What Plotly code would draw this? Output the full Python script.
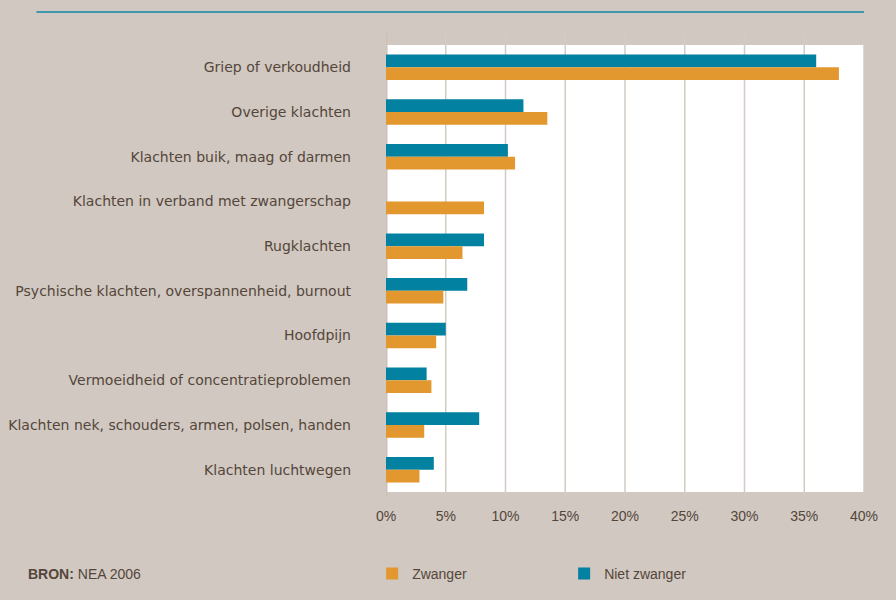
import plotly.graph_objects as go

# Redenen van ziekteverzuim, zwangere vs. niet-zwangere werknemers (percentages)
categories = [
    "Griep of verkoudheid",
    "Overige klachten",
    "Klachten buik, maag of darmen",
    "Klachten in verband met zwangerschap",
    "Rugklachten",
    "Psychische klachten, overspannenheid, burnout",
    "Hoofdpijn",
    "Vermoeidheid of concentratieproblemen",
    "Klachten nek, schouders, armen, polsen, handen",
    "Klachten luchtwegen",
]
zwanger = [37.9, 13.5, 10.8, 8.2, 6.4, 4.8, 4.2, 3.8, 3.2, 2.8]
niet_zwanger = [36.0, 11.5, 10.2, 0.0, 8.2, 6.8, 5.0, 3.4, 7.8, 4.0]
tick_values = [0, 5, 10, 15, 20, 25, 30, 35, 40]
tick_labels = ["0%", "5%", "10%", "15%", "20%", "25%", "30%", "35%", "40%"]

BG = "#d1c8c1"
GRID = "#d3cbc4"
TEAL = "#0281a1"
ORANGE = "#e2982f"
TEXT = "#54463a"
FONT = "Liberation Sans, Arial, sans-serif"
LABEL_FONT = "DejaVu Sans, Verdana, sans-serif"

fig = go.Figure()
fig.add_trace(go.Bar(
    y=categories, x=niet_zwanger, orientation="h", name="Niet zwanger",
    marker=dict(color=TEAL, line=dict(width=0)), legendrank=2,
))
fig.add_trace(go.Bar(
    y=categories, x=zwanger, orientation="h", name="Zwanger",
    marker=dict(color=ORANGE, line=dict(width=0)), legendrank=1,
))

# Rasterlijnen die iets buiten het witte plotvlak doorlopen
shapes = []
for v in tick_values:
    shapes.append(dict(
        type="line", xref="x", yref="paper", x0=v, x1=v, y0=-0.012, y1=1.027,
        line=dict(color=GRID if v else "#cbc1b9", width=3 if v == 0 else 1.5),
        layer="below",
    ))
# Lijn bovenaan de pagina
shapes.append(dict(
    type="line", xref="paper", yref="paper",
    x0=(36 - 386) / 478.5, x1=1.0, y0=(492 - 12) / 447, y1=(492 - 12) / 447,
    line=dict(color="#3f98ad", width=2),
))

fig.update_layout(
    width=896, height=600,
    paper_bgcolor=BG, plot_bgcolor="white",
    margin=dict(l=386, r=31.5, t=45, b=108, autoexpand=False),
    barmode="group", bargap=0.43, bargroupgap=0,
    font=dict(family=FONT, size=14, color=TEXT),
    shapes=shapes,
    showlegend=True,
    legend=dict(
        orientation="h", x=-0.029, y=-0.183, xanchor="left", yanchor="middle",
        bgcolor="rgba(0,0,0,0)", font=dict(size=14, color=TEXT),
        entrywidth=147, entrywidthmode="pixels", traceorder="normal",
    ),
    annotations=[dict(
        text="<b>BRON:</b> NEA 2006", xref="paper", yref="paper",
        x=(26 - 386) / 478.5, y=-0.183, xanchor="left", yanchor="middle",
        showarrow=False, font=dict(size=14, color=TEXT),
    )],
)
fig.update_xaxes(
    range=[0, 40], tickvals=tick_values, ticktext=tick_labels,
    showgrid=False, zeroline=False, showline=False, ticks="",
    tickfont=dict(size=14, color=TEXT), ticklabelstandoff=14, automargin=False,
)
fig.update_yaxes(
    autorange="reversed", showgrid=False, zeroline=False, showline=False,
    ticks="", ticklabelstandoff=34, automargin=False,
    tickfont=dict(family=LABEL_FONT, size=14, color=TEXT),
)

fig.write_html("out.html")
